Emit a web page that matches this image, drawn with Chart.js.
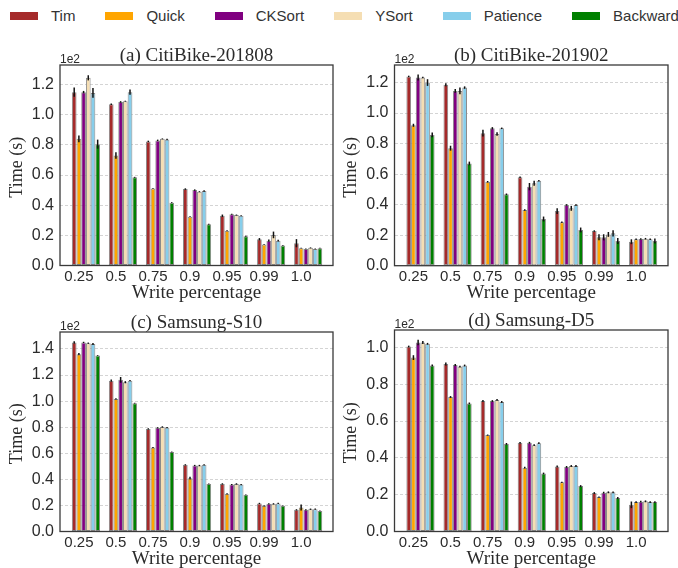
<!DOCTYPE html>
<html>
<head>
<meta charset="utf-8">
<script src="https://cdn.jsdelivr.net/npm/chart.js@4.4.1/dist/chart.umd.min.js"></script>
<style>
  html, body { margin: 0; padding: 0; background: #fff; width: 678px; height: 568px; overflow: hidden; }
  #legend { position: absolute; left: 10px; top: 7px; display: flex; align-items: center;
            font-family: "Liberation Sans", Arial, sans-serif; font-size: 15px; color: #333; white-space: nowrap; }
  .item { display: flex; align-items: center; margin-right: 30px; line-height: 18px; }
  .sw { width: 28px; height: 8px; margin-right: 13px; }
  canvas { position: absolute; }
</style>
</head>
<body>
<div id="legend"></div>
<canvas id="pa" width="339" height="285" style="left:0px;top:20px"></canvas>
<canvas id="pb" width="339" height="285" style="left:339px;top:20px"></canvas>
<canvas id="pc" width="339" height="278" style="left:0px;top:290px"></canvas>
<canvas id="pd" width="339" height="278" style="left:339px;top:290px"></canvas>
<script>
// Write percentages on the x axis
const writePercentages = ['0.25', '0.5', '0.75', '0.9', '0.95', '0.99', '1.0'];
// Sorting algorithms, in bar order
const algorithms = ['Tim', 'Quick', 'CKSort', 'YSort', 'Patience', 'Backward'];
const algorithmColors = ['#a52a2a', '#ffa500', '#800080', '#f5deb3', '#87ceeb', '#008000'];

// Mean run time in seconds, one row per algorithm
const timeCitiBike201808 = [
  [115, 107, 82.3, 50.7, 33, 17.4, 14.8],
  [84, 73, 51, 32.4, 23, 14, 11.5],
  [115, 108.5, 83, 50, 34, 16.5, 11],
  [124.5, 109, 84, 49, 33.5, 20.3, 11.7],
  [114.5, 115, 83.6, 49.4, 33, 16.5, 11],
  [80.5, 58.5, 41.7, 27.4, 19.4, 13.2, 11.5]
];
const errCitiBike201808 = [
  [3, 0.5, 0.5, 0.5, 0.8, 0.8, 2.7],
  [2.2, 2.2, 0.3, 0.3, 0.3, 0.3, 0.3],
  [0.8, 0.5, 0.5, 0.5, 0.3, 0.8, 0.3],
  [1.7, 0.3, 0.3, 0.3, 0.3, 2.2, 0.3],
  [3.2, 1.7, 0.5, 0.5, 0.3, 0.6, 0.3],
  [3, 0.3, 0.3, 0.3, 0.3, 0.3, 0.3]
];

const timeCitiBike201902 = [
  [124, 118.5, 86.8, 58, 35.8, 22.7, 15.7],
  [92, 77, 55, 36.5, 28.4, 18.6, 17.3],
  [123.3, 114.5, 90, 51.8, 39.8, 18.6, 17.5],
  [123.3, 114.5, 86.3, 54, 37.6, 20.5, 17.7],
  [120, 116.7, 90, 55.7, 39.8, 21.2, 17.3],
  [85.7, 67, 46.8, 30.6, 23.4, 16.2, 16.2]
];
const errCitiBike201902 = [
  [0.5, 1, 2.2, 0.5, 1.9, 0.5, 1.6],
  [1, 1.6, 0.5, 0.5, 0.5, 2, 0.5],
  [1.9, 1.2, 0.8, 2.4, 0.5, 2, 0.5],
  [0.5, 2.2, 1.2, 1.6, 1.6, 1.6, 0.5],
  [2.2, 0.8, 0.5, 0.5, 0.5, 2, 0.5],
  [1.6, 1.2, 0.5, 1.6, 1.6, 2, 1.6]
];

const timeSamsungS10 = [
  [145, 115.7, 78.7, 51.1, 36.5, 21.5, 16.6],
  [136, 101.7, 64.4, 40.9, 28.9, 19.7, 18.4],
  [145, 116.3, 79.5, 50.6, 36, 21.2, 16.6],
  [144.4, 114.5, 80.2, 50.6, 36.5, 21.2, 17.1],
  [143.8, 115.7, 79.7, 51.1, 36, 21.5, 17.1],
  [135, 98.4, 61, 36.5, 28.1, 19.7, 15.8]
];
const errSamsungS10 = [
  [1, 0.8, 0.5, 0.5, 0.5, 0.5, 0.5],
  [0.8, 0.5, 0.5, 1, 0.5, 0.5, 2.3],
  [0.5, 2.2, 0.5, 0.5, 0.5, 0.5, 0.5],
  [0.5, 0.8, 0.5, 0.5, 0.5, 0.5, 0.5],
  [0.8, 0.5, 0.5, 0.5, 0.5, 0.5, 0.5],
  [0.3, 0.3, 0.3, 0.3, 0.3, 0.3, 0.3]
];

const timeSamsungD5 = [
  [100.5, 91, 70.9, 48.2, 35.3, 20.9, 14.5],
  [94.5, 73.1, 52.4, 34.7, 26.7, 18.7, 16],
  [102.7, 90.5, 70.9, 48.2, 35.1, 21.1, 16.2],
  [102.7, 89.6, 71.5, 46.9, 35.6, 21.3, 16.4],
  [102, 90.2, 70.4, 48, 35.6, 21.3, 16],
  [90.2, 69.6, 47.6, 31.5, 24.7, 18.2, 16]
];
const errSamsungD5 = [
  [0.5, 0.8, 0.5, 0.5, 0.5, 0.5, 1.8],
  [1.3, 0.5, 0.3, 0.5, 0.3, 0.3, 0.5],
  [1.5, 0.5, 0.5, 0.5, 0.5, 0.5, 0.5],
  [0.8, 0.5, 0.5, 0.5, 0.5, 0.5, 0.5],
  [0.5, 0.5, 0.5, 0.5, 0.5, 0.5, 0.5],
  [0.5, 0.5, 0.5, 0.5, 0.5, 0.5, 0.5]
];

// Legend across the top
const legendEl = document.getElementById('legend');
algorithms.forEach((name, i) => {
  const item = document.createElement('div');
  item.className = 'item';
  const sw = document.createElement('span');
  sw.className = 'sw';
  sw.style.background = algorithmColors[i];
  const label = document.createElement('span');
  label.textContent = name;
  item.appendChild(sw);
  item.appendChild(label);
  legendEl.appendChild(item);
});

const SANS = '"Liberation Sans", Arial, sans-serif';
const SERIF = '"Liberation Serif", "Times New Roman", serif';
const TEXT = '#2b2b2b';
const TICK_SHIFT = -0.19;

// Frame, titles, "1e2" offset text and error bars
const panelDeco = {
  id: 'panelDeco',
  afterDatasetsDraw(chart, args, opts) {
    const ctx = chart.ctx;
    const ys = chart.scales.y;
    ctx.save();
    ctx.strokeStyle = '#111';
    ctx.lineWidth = 1.5;
    chart.data.datasets.forEach((ds, di) => {
      const meta = chart.getDatasetMeta(di);
      meta.data.forEach((bar, i) => {
        const v = ds.data[i].y;
        const e = opts.errors[di][i];
        ctx.beginPath();
        ctx.moveTo(bar.x, ys.getPixelForValue(v - e));
        ctx.lineTo(bar.x, ys.getPixelForValue(v + e));
        ctx.stroke();
      });
    });
    ctx.restore();
  },
  afterDraw(chart, args, opts) {
    const ctx = chart.ctx;
    const a = chart.chartArea;
    ctx.save();
    ctx.strokeStyle = '#3a3a3a';
    ctx.lineWidth = 1.3;
    ctx.strokeRect(a.left, a.top, a.right - a.left, a.bottom - a.top);

    ctx.fillStyle = TEXT;
    ctx.textAlign = 'center';
    ctx.textBaseline = 'alphabetic';
    ctx.font = '19px ' + SERIF;
    ctx.fillText(opts.title, (a.left + a.right) / 2, a.top - 4);
    ctx.fillText('Write percentage', (a.left + a.right) / 2, a.bottom + 32);

    ctx.textAlign = 'left';
    ctx.font = '12px ' + SANS;
    ctx.fillText('1e2', a.left, a.top - 2);

    ctx.translate(a.left - 43, (a.top + a.bottom) / 2 + 2);
    ctx.rotate(-Math.PI / 2);
    ctx.textAlign = 'center';
    ctx.textBaseline = 'middle';
    ctx.font = '18px ' + SERIF;
    ctx.fillText('Time (s)', 0, 0);
    ctx.restore();
  }
};

function makePanel(id, title, times, errs, yMax, yStep, geom) {
  const datasets = algorithms.map((name, s) => ({
    label: name,
    data: times[s].map((v, i) => ({ x: i, y: v })),
    backgroundColor: algorithmColors[s],
    borderColor: '#8a8a8a',
    borderWidth: 1,
    borderSkipped: false,
    categoryPercentage: 0.76,
    barPercentage: 1.0
  }));
  return new Chart(document.getElementById(id), {
    type: 'bar',
    data: { datasets },
    plugins: [panelDeco],
    options: {
      responsive: false,
      animation: false,
      events: [],
      layout: { padding: { top: geom.top, right: geom.right, left: 0, bottom: 0 } },
      plugins: {
        legend: { display: false },
        tooltip: { enabled: false },
        panelDeco: { title, errors: errs }
      },
      scales: {
        x: {
          type: 'linear',
          offset: false,
          min: -0.70,
          max: 6.67,
          grid: { display: false, drawTicks: false },
          border: { display: false },
          afterBuildTicks: (scale) => {
            scale.ticks = writePercentages.map((_, i) => ({ value: i + TICK_SHIFT }));
          },
          afterFit: (scale) => { scale.height = geom.xHeight; },
          ticks: {
            autoSkip: false,
            maxRotation: 0,
            padding: 2.5,
            color: TEXT,
            font: { family: SANS, size: 15 },
            callback: (v, i) => writePercentages[i]
          }
        },
        y: {
          min: 0,
          max: yMax,
          grid: { color: '#c9c9c9', lineWidth: 0.8, drawTicks: false },
          border: { display: false, dash: [3, 2] },
          afterFit: (scale) => { scale.width = geom.left; },
          ticks: {
            stepSize: yStep,
            includeBounds: false,
            padding: 6,
            color: TEXT,
            font: { family: SANS, size: 16 },
            callback: (v) => (v / 100).toFixed(1)
          }
        }
      }
    }
  });
}

makePanel('pa', '(a) CitiBike-201808', timeCitiBike201808, errCitiBike201808, 133, 20,
  { top: 45, right: 6, left: 60, xHeight: 39.5 });
makePanel('pb', '(b) CitiBike-201902', timeCitiBike201902, errCitiBike201902, 131.5, 20,
  { top: 45, right: 10, left: 55.5, xHeight: 39.3 });
makePanel('pc', '(c) Samsung-S10', timeSamsungS10, errSamsungS10, 153, 20,
  { top: 42, right: 6, left: 60, xHeight: 36.5 });
makePanel('pd', '(d) Samsung-D5', timeSamsungD5, errSamsungD5, 109.5, 20,
  { top: 40, right: 10, left: 55.5, xHeight: 36.5 });
</script>
</body>
</html>
